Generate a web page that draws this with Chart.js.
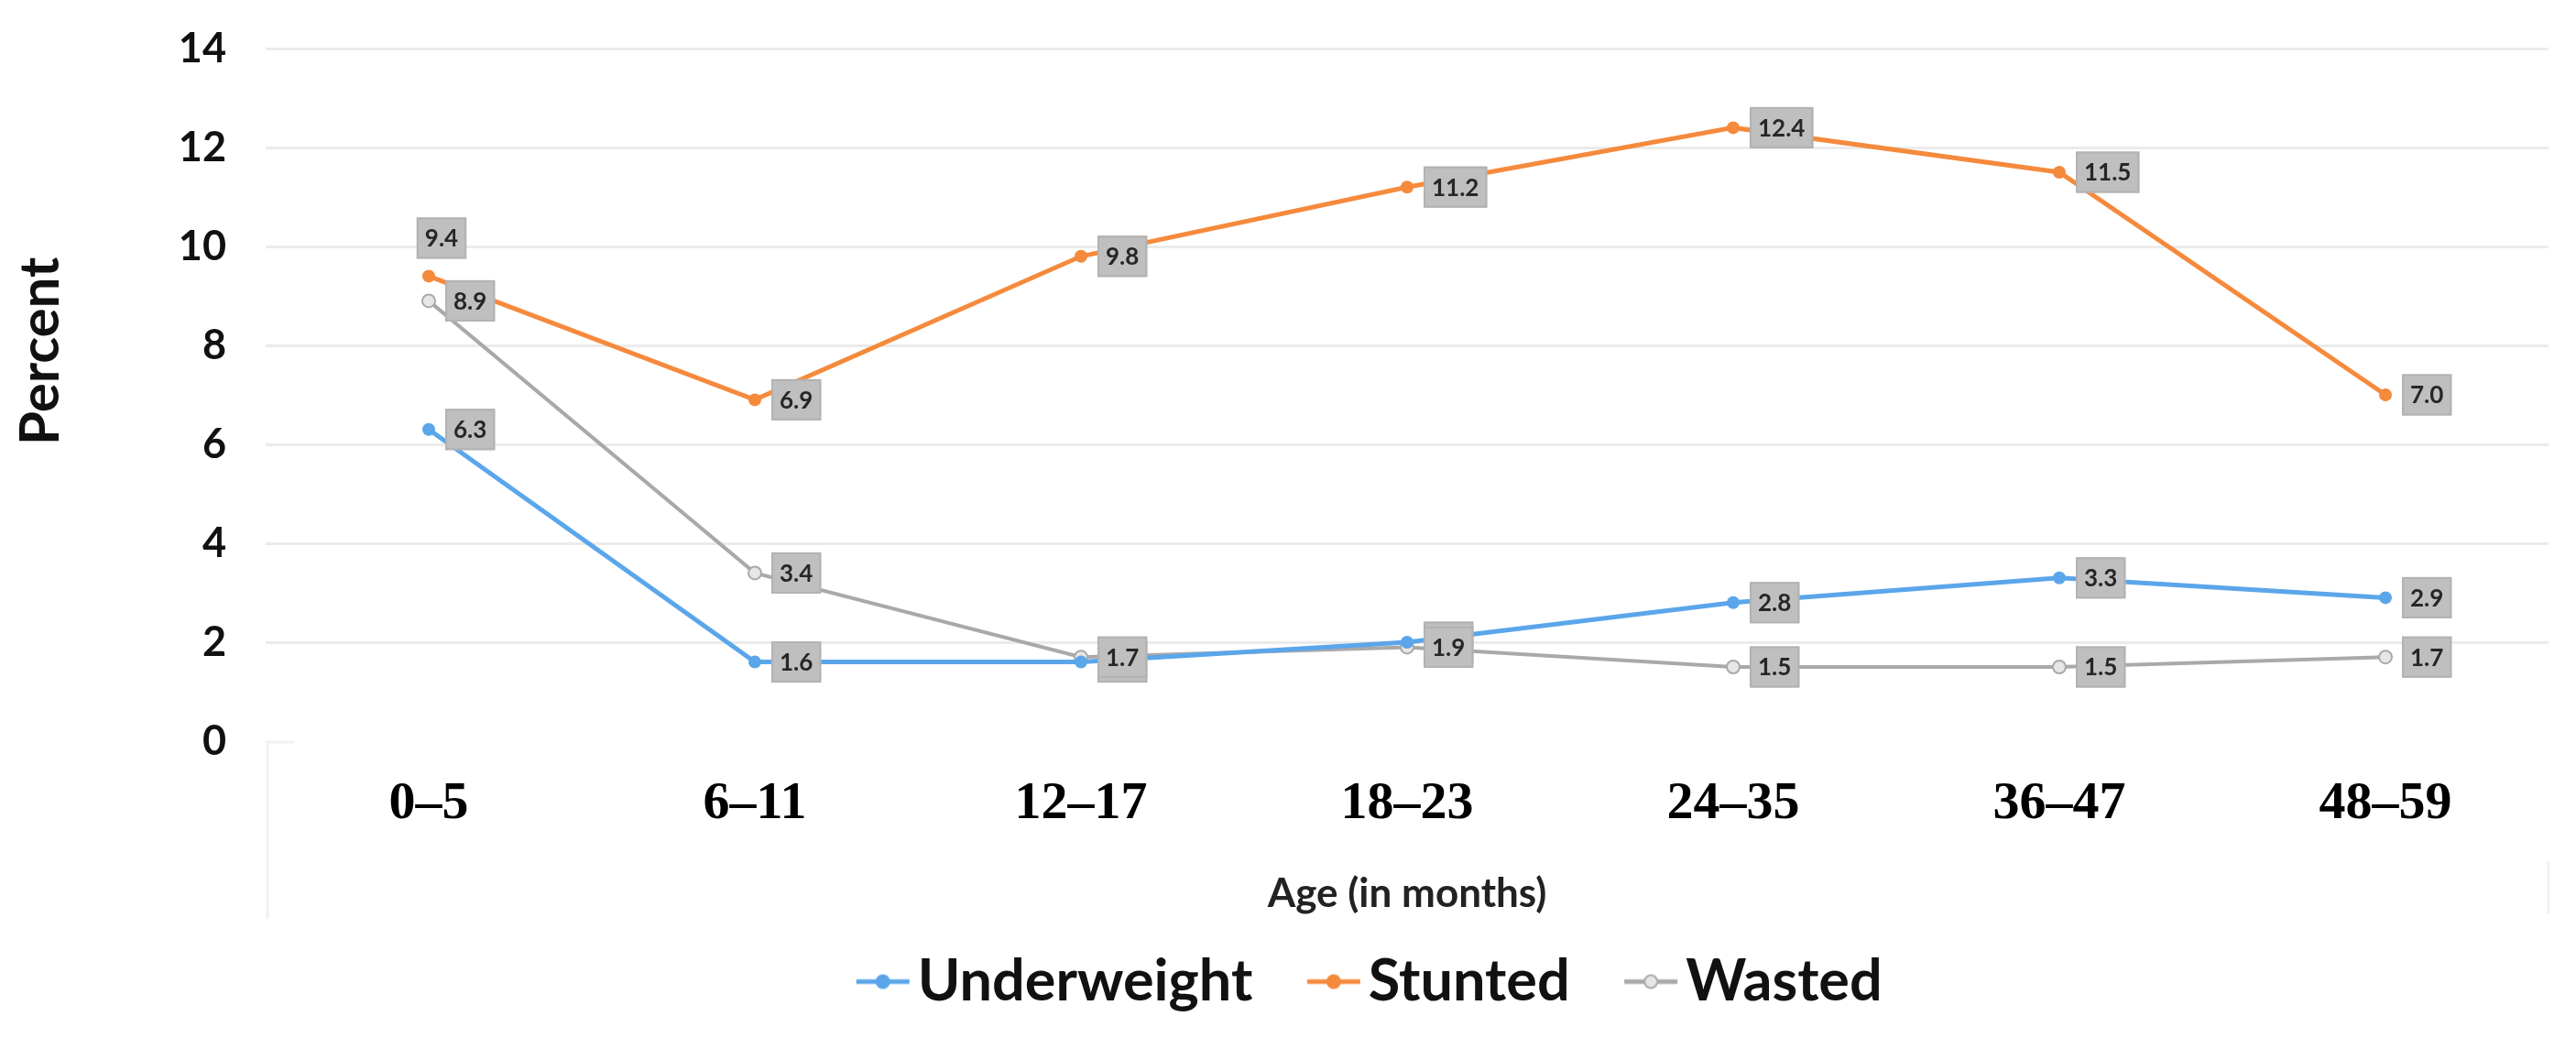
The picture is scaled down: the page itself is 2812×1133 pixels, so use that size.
<!DOCTYPE html>
<html>
<head>
<meta charset="utf-8">
<script src="https://cdn.jsdelivr.net/npm/chart.js@4/dist/chart.umd.min.js"></script>
<style>
html,body{margin:0;padding:0;background:#fff;}
#wrap{width:2812px;height:1133px;position:relative;}
</style>
</head>
<body>
<div id="wrap"><canvas id="c"></canvas></div>
<script>
const categories = ['0–5', '6–11', '12–17', '18–23', '24–35', '36–47', '48–59'];
const underweight = [6.3, 1.6, 1.6, 2.0, 2.8, 3.3, 2.9];
const stunted = [9.4, 6.9, 9.8, 11.2, 12.4, 11.5, 7.0];
const wasted = [8.9, 3.4, 1.7, 1.9, 1.5, 1.5, 1.7];
const yTicks = [0, 2, 4, 6, 8, 10, 12, 14];
const seriesNames = ['Underweight', 'Stunted', 'Wasted'];
const xTitle = 'Age (in months)';
const yTitle = 'Percent';

const lineColors = ['#5ba6ea', '#f58a3d', '#a9a9a9'];
const pointFills = ['#5ba6ea', '#f58a3d', '#e6e6e6'];

function makeMarker(color, fill) {
  const c = document.createElement('canvas');
  c.width = 82; c.height = 20;
  const g = c.getContext('2d');
  g.strokeStyle = color; g.lineWidth = 5;
  g.beginPath(); g.moveTo(23, 10); g.lineTo(81, 10); g.stroke();
  g.beginPath(); g.arc(52, 10, 7, 0, Math.PI * 2);
  g.fillStyle = fill; g.fill();
  g.lineWidth = 2; g.strokeStyle = color; g.stroke();
  return c;
}
const markers = lineColors.map((c, i) => makeMarker(c, pointFills[i]));

const boxLabels = {
  id: 'boxLabels',
  afterDatasetsDraw(chart, args, opts) {
    const ctx = chart.ctx;
    ctx.save();
    ctx.font = 'bold 26px Lato';
    ctx.textAlign = 'center';
    ctx.textBaseline = 'middle';
    chart.data.datasets.forEach((ds, di) => {
      const meta = chart.getDatasetMeta(di);
      meta.data.forEach((pt, i) => {
        const txt = Number(ds.data[i]).toFixed(1);
        const tw = ctx.measureText(txt).width;
        const w = tw + 18, h = 45;
        let left, top;
        if ((opts.above || []).some(a => a[0] === di && a[1] === i)) {
          left = pt.x + 14 - w / 2; top = pt.y - 19 - h;
        } else {
          left = pt.x + 18; top = pt.y - h / 2;
        }
        ctx.fillStyle = '#bfbfbf';
        ctx.fillRect(left, top, w, h);
        ctx.strokeStyle = '#b2b2b2'; ctx.lineWidth = 2;
        ctx.strokeRect(left + 1, top + 1, w - 2, h - 2);
        ctx.fillStyle = '#262626';
        ctx.fillText(txt, left + w / 2, top + h / 2 + 1);
      });
    });
    ctx.restore();
  }
};

const yTitlePlugin = {
  id: 'yTitlePlugin',
  afterDraw(chart) {
    const ctx = chart.ctx, a = chart.chartArea;
    ctx.save();
    ctx.translate(45, a.top + (a.bottom - a.top) * 0.437);
    ctx.rotate(-Math.PI / 2);
    ctx.font = 'bold 60px Lato';
    ctx.fillStyle = '#111';
    ctx.textAlign = 'center';
    ctx.textBaseline = 'middle';
    ctx.fillText(yTitle, 0, 0);
    ctx.restore();
  }
};

const legendPlace = {
  id: 'legendPlace',
  afterLayout(chart) {
    const lg = chart.legend;
    if (!lg) return;
    const w = lg.right - lg.left, h = lg.bottom - lg.top;
    lg.left = 1495 - w / 2; lg.right = lg.left + w;
    lg.top = 980; lg.bottom = lg.top + h;
  }
};

const framePlugin = {
  id: 'framePlugin',
  beforeDatasetsDraw(chart) {
    const ctx = chart.ctx, a = chart.chartArea;
    ctx.save();
    ctx.strokeStyle = '#f1f1f1';
    ctx.lineWidth = 3;
    ctx.beginPath();
    ctx.moveTo(a.left + 31, a.bottom + 1);
    ctx.lineTo(a.left + 2, a.bottom + 1);
    ctx.lineTo(a.left + 2, a.bottom + 194);
    ctx.moveTo(a.right, a.bottom + 131);
    ctx.lineTo(a.right, a.bottom + 188);
    ctx.stroke();
    ctx.restore();
  }
};

function makeChart() {
  const seriesData = [underweight, stunted, wasted];
  const datasets = seriesNames.map((name, i) => ({
    label: name,
    data: seriesData[i],
    borderColor: lineColors[i],
    backgroundColor: pointFills[i],
    borderWidth: i === 2 ? 4 : 5,
    pointRadius: 7,
    pointHoverRadius: 7,
    pointBackgroundColor: pointFills[i],
    pointBorderColor: lineColors[i],
    pointBorderWidth: i === 2 ? 2 : 0,
    tension: 0,
    fill: false
  }));

  new Chart(document.getElementById('c'), {
    type: 'line',
    data: { labels: categories, datasets },
    plugins: [boxLabels, yTitlePlugin, legendPlace, framePlugin],
    options: {
      responsive: true,
      maintainAspectRatio: false,
      devicePixelRatio: 1,
      animation: false,
      layout: { padding: { top: 53, right: 30, left: 0, bottom: 0 } },
      scales: {
        x: {
          offset: true,
          grid: { display: false, drawTicks: false },
          border: { display: false },
          ticks: {
            padding: 34,
            color: '#000',
            font: { family: 'Liberation Serif', size: 58, weight: 'bold' },
            maxRotation: 0
          },
          title: {
            display: true,
            text: xTitle,
            color: '#222',
            font: { family: 'Lato', size: 44, weight: 'bold', lineHeight: 1.1 },
            padding: 0
          },
          afterFit(scale) { scale.height = 191; }
        },
        y: {
          min: yTicks[0],
          max: yTicks[yTicks.length - 1],
          afterBuildTicks(scale) { scale.ticks = yTicks.map(v => ({ value: v })); },
          grid: {
            drawTicks: true,
            tickLength: 33,
            tickColor: 'rgba(0,0,0,0)',
            lineWidth: 3,
            color: (c) => (c.tick && c.tick.value === 0) ? 'rgba(0,0,0,0)' : '#ebebeb'
          },
          border: { display: false },
          ticks: {
            padding: 10,
            color: '#111',
            font: { family: 'Lato', size: 45, weight: 'bold' }
          },
          title: { display: false },
          afterFit(scale) { scale.width = 290; }
        }
      },
      plugins: {
        legend: {
          position: 'bottom',
          labels: {
            usePointStyle: true,
            pointStyleWidth: 35,
            padding: 60,
            color: '#111',
            font: { family: 'Lato', size: 63, weight: 'bold' },
            generateLabels(chart) {
              const items = Chart.defaults.plugins.legend.labels.generateLabels(chart);
              items.forEach(it => { it.pointStyle = markers[it.datasetIndex]; });
              return items;
            }
          }
        },
        tooltip: { enabled: false },
        boxLabels: { above: [[1, 0]] }
      }
    }
  });
}

const fontLoads = [
  'bold 63px Lato', 'bold 45px Lato', 'bold 26px Lato', 'bold 58px "Liberation Serif"'
].map(f => document.fonts.load(f).catch(() => null));
Promise.all(fontLoads).then(makeChart, makeChart);
</script>
</body>
</html>
